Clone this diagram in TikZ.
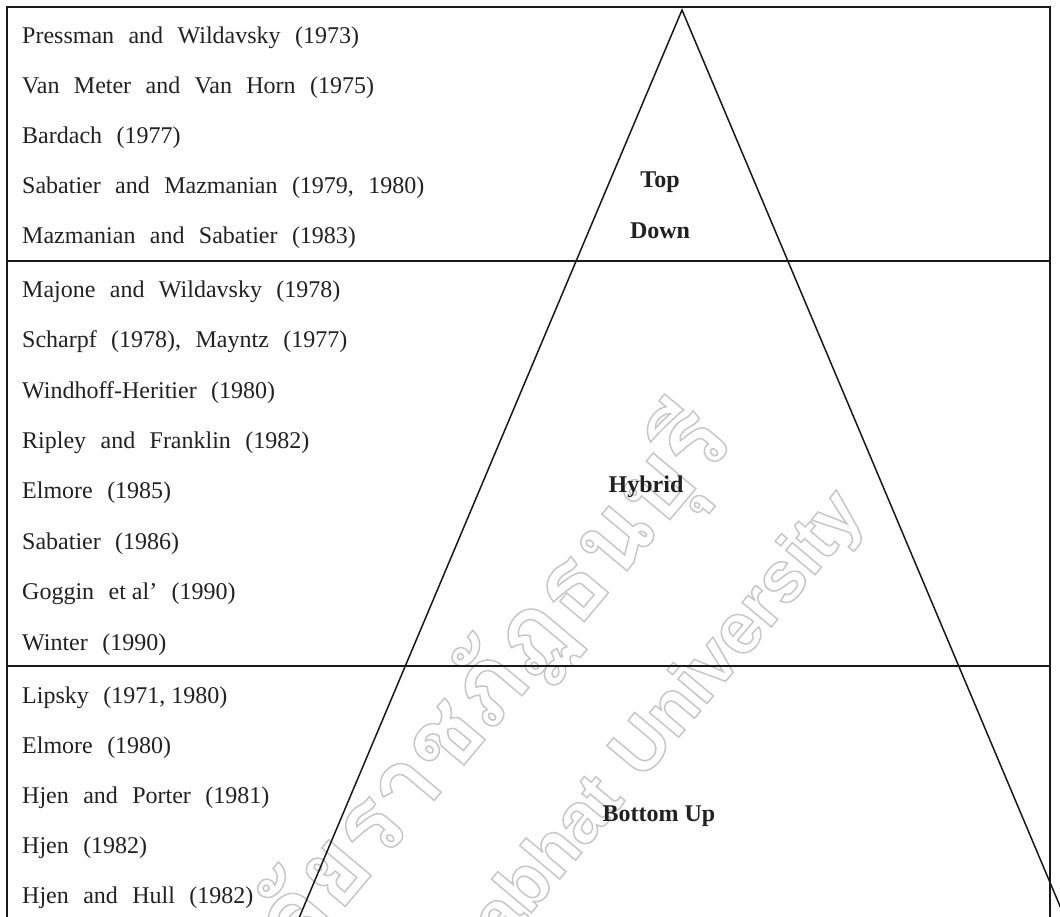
\documentclass[tikz,border=0pt]{standalone}
\usepackage{fontspec}
\setmainfont{Liberation Serif}
\newfontfamily\thaiwm[Script=Thai]{Loma}
\newfontfamily\latinwm{Liberation Sans}
\newcommand{\wsp}{\hspace{0.6em}}
\newcommand{\outlineon}{\special{pdf:literal direct 1 Tr 1.5 w}}
\newcommand{\outlineoff}{\special{pdf:literal direct 0 Tr}}
\tikzset{
  ref/.style={anchor=base west, inner sep=0pt, font=\fontsize{24pt}{28pt}\selectfont, text=black!87},
  lab/.style={anchor=base, inner sep=0pt, font=\fontsize{24pt}{28pt}\selectfont\bfseries, text=black!87},
  frame/.style={line width=2.4pt, draw=black!90},
  divider/.style={line width=1.8pt, draw=black!90},
  side/.style={line width=1.5pt, draw=black!90},
  wm/.style={inner sep=0pt, text=black!22, rotate=50}
}
\begin{document}
\begin{tikzpicture}[x=1pt,y=-1pt]
\clip (0,0) rectangle (1060,916);
\fill[white] (0,0) rectangle (1060,916);
% watermark
\begin{scope}
\node[wm, anchor=base east, font=\thaiwm\bfseries\fontsize{100pt}{110pt}\selectfont] (wmth) at (735,442) {\outlineon มหาวิทยาลัยราชภัฏธนบุรี\outlineoff};
\node[wm, anchor=base east, font=\latinwm\bfseries\fontsize{72pt}{80pt}\selectfont] (wmen) at (866,514) {\outlineon Rajabhat\hspace{0.35em}University\outlineoff};
\end{scope}
% frame
\coordinate (fbl) at (7,930);
\coordinate (ftl) at (7,7);
\coordinate (ftr) at (1050,7);
\coordinate (fbr) at (1050,930);
\draw[frame] (fbl) -- (ftl) -- (ftr) -- (fbr);
% dividers
\coordinate (d1l) at (7,261);
\coordinate (d1r) at (1050,261);
\coordinate (d2l) at (7,666);
\coordinate (d2r) at (1050,666);
\draw[divider] (d1l) -- (d1r);
\draw[divider] (d2l) -- (d2r);
% triangle
\coordinate (apex) at (682,10);
\coordinate (bl) at (299,918);
\coordinate (br) at (1065,918);
\draw[side] (bl) -- (apex) -- (br);
% labels
\node[lab] (top) at (660,187) {Top};
\node[lab] (down) at (660,238) {Down};
\node[lab] (hybrid) at (646,492) {Hybrid};
\node[lab] (bottomup) at (659,821) {Bottom Up};
% references: top down
\node[ref] (r1) at (22,43) {Pressman\wsp and\wsp Wildavsky\wsp (1973)};
\node[ref] (r2) at (22,93) {Van\wsp Meter\wsp and\wsp Van\wsp Horn\wsp (1975)};
\node[ref] (r3) at (22,143) {Bardach\wsp (1977)};
\node[ref] (r4) at (22,193) {Sabatier\wsp and\wsp Mazmanian\wsp (1979,\wsp 1980)};
\node[ref] (r5) at (22,243) {Mazmanian\wsp and\wsp Sabatier\wsp (1983)};
% hybrid
\node[ref] (r6) at (22,297) {Majone\wsp and\wsp Wildavsky\wsp (1978)};
\node[ref] (r7) at (22,347) {Scharpf\wsp (1978),\wsp Mayntz\wsp (1977)};
\node[ref] (r8) at (22,398) {Windhoff-Heritier\wsp (1980)};
\node[ref] (r9) at (22,448) {Ripley\wsp and\wsp Franklin\wsp (1982)};
\node[ref] (r10) at (22,498) {Elmore\wsp (1985)};
\node[ref] (r11) at (22,549) {Sabatier\wsp (1986)};
\node[ref] (r12) at (22,599) {Goggin\wsp et al'\wsp (1990)};
\node[ref] (r13) at (22,650) {Winter\wsp (1990)};
% bottom up
\node[ref] (r14) at (22,703) {Lipsky\wsp (1971, 1980)};
\node[ref] (r15) at (22,753) {Elmore\wsp (1980)};
\node[ref] (r16) at (22,803) {Hjen\wsp and\wsp Porter\wsp (1981)};
\node[ref] (r17) at (22,853) {Hjen\wsp (1982)};
\node[ref] (r18) at (22,903) {Hjen\wsp and\wsp Hull\wsp (1982)};
\end{tikzpicture}
\end{document}
